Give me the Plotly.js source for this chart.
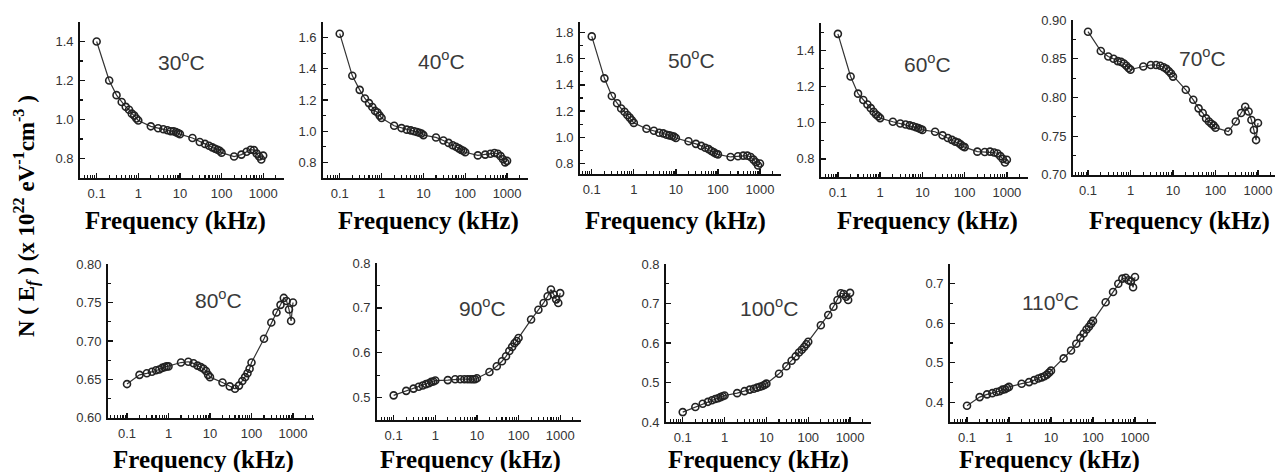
<!DOCTYPE html>
<html>
<head>
<meta charset="utf-8">
<script src="https://cdn.plot.ly/plotly-3.0.1.min.js"></script>
<style>
html,body{margin:0;padding:0;background:#fff;}
#chart{width:1275px;height:472px;}
</style>
</head>
<body>
<div id="chart"></div>
<script>
// ---- data ----
const freqKHz = [0.1,0.2,0.3,0.4,0.5,0.6,0.7,0.8,0.9,1,2,3,4,5,6,7,8,9,10,20,30,40,50,60,70,80,90,100,200,300,400,500,600,700,800,900,1000];
const tempLabels = ['30','40','50','60','70','80','90','100','110'];
const xTickVals = [0.1,1,10,100,1000];
const xTickText = ['0.1','1','10','100','1000'];
const xTitle = 'Frequency (kHz)';
const yTitle = 'N ( E<sub><i>f</i></sub> ) (x 10<sup>22</sup> eV<sup>-1</sup>cm<sup>-3</sup> )';

const n30 = [1.40,1.20,1.125,1.09,1.065,1.05,1.03,1.02,1.005,0.995,0.965,0.955,0.95,0.945,0.94,0.94,0.935,0.93,0.925,0.905,0.885,0.875,0.865,0.857,0.85,0.845,0.84,0.83,0.81,0.82,0.835,0.845,0.843,0.825,0.81,0.795,0.815];
const n40 = [1.625,1.355,1.265,1.21,1.18,1.155,1.13,1.12,1.10,1.085,1.035,1.02,1.01,1.005,1.0,0.995,0.99,0.985,0.975,0.96,0.94,0.925,0.91,0.90,0.89,0.88,0.875,0.865,0.845,0.85,0.855,0.86,0.855,0.84,0.82,0.80,0.81];
const n50 = [1.77,1.45,1.315,1.26,1.22,1.195,1.17,1.15,1.13,1.11,1.065,1.05,1.035,1.03,1.02,1.015,1.01,1.005,0.995,0.97,0.95,0.935,0.92,0.91,0.895,0.885,0.875,0.87,0.85,0.855,0.86,0.86,0.85,0.83,0.81,0.785,0.80];
const n60 = [1.49,1.255,1.16,1.125,1.10,1.08,1.06,1.045,1.035,1.025,1.005,0.995,0.99,0.985,0.98,0.975,0.97,0.965,0.96,0.95,0.93,0.915,0.905,0.895,0.89,0.88,0.87,0.865,0.84,0.838,0.84,0.835,0.83,0.815,0.80,0.78,0.795];
const n70 = [0.885,0.86,0.853,0.85,0.847,0.846,0.844,0.841,0.838,0.836,0.84,0.842,0.842,0.841,0.839,0.837,0.834,0.831,0.827,0.81,0.797,0.786,0.78,0.773,0.769,0.766,0.764,0.761,0.756,0.769,0.78,0.788,0.782,0.771,0.758,0.745,0.767];
const n80 = [0.644,0.656,0.658,0.66,0.662,0.663,0.665,0.666,0.667,0.667,0.672,0.673,0.671,0.668,0.666,0.664,0.661,0.656,0.653,0.646,0.641,0.638,0.642,0.648,0.653,0.658,0.664,0.672,0.703,0.724,0.737,0.747,0.756,0.752,0.741,0.726,0.75];
const n90 = [0.505,0.515,0.52,0.524,0.527,0.53,0.532,0.535,0.536,0.538,0.539,0.541,0.541,0.541,0.541,0.541,0.541,0.541,0.543,0.557,0.570,0.581,0.592,0.604,0.613,0.621,0.626,0.633,0.674,0.696,0.711,0.726,0.741,0.73,0.719,0.711,0.733];
const n100 = [0.425,0.438,0.446,0.451,0.455,0.458,0.46,0.463,0.465,0.467,0.473,0.478,0.482,0.484,0.487,0.489,0.491,0.494,0.497,0.522,0.541,0.555,0.566,0.576,0.583,0.59,0.597,0.603,0.645,0.671,0.692,0.709,0.726,0.724,0.717,0.709,0.727];
const n110 = [0.391,0.413,0.42,0.423,0.426,0.428,0.432,0.433,0.436,0.439,0.447,0.451,0.456,0.46,0.463,0.466,0.47,0.475,0.48,0.511,0.531,0.548,0.563,0.574,0.584,0.591,0.599,0.606,0.653,0.679,0.70,0.713,0.715,0.709,0.706,0.691,0.717];
const seriesList = [n30,n40,n50,n60,n70,n80,n90,n100,n110];

// ---- layout of each panel (pixel boxes and axis settings) ----
const W = 1275, H = 472;
const panels = [
  {l:80,  r:284, t:22,  b:178, xr:[-1.4,3.5],   yr:[0.7,1.5],    d:0.2,  t0:0.8, f:'.1f', lab:[182,61],  ttl:[175,221]},
  {l:323, r:528, t:22,  b:178, xr:[-1.4,3.5],   yr:[0.7,1.7],    d:0.2,  t0:0.8, f:'.1f', lab:[441,60],  ttl:[428,221]},
  {l:580, r:781, t:22,  b:174, xr:[-1.28,3.5],  yr:[0.72,1.88],  d:0.2,  t0:0.8, f:'.1f', lab:[691,59],  ttl:[675,221]},
  {l:821, r:1028,t:23,  b:177, xr:[-1.4,3.5],   yr:[0.7,1.55],   d:0.2,  t0:0.8, f:'.1f', lab:[928,63],  ttl:[928,221]},
  {l:1073,r:1275,t:20,  b:175, xr:[-1.353,3.4], yr:[0.6999,0.9001],d:0.05,t0:0.7,f:'.2f', lab:[1202,57], ttl:[1179,221]},
  {l:108, r:314, t:264, b:418, xr:[-1.458,3.506],yr:[0.5999,0.8001],d:0.05,t0:0.6,f:'.2f', lab:[218,299], ttl:[203,460]},
  {l:377, r:581, t:263, b:420, xr:[-1.4,3.5],   yr:[0.45,0.8001],d:0.1,  t0:0.5, f:'.1f', lab:[482,307], ttl:[470,460]},
  {l:666, r:871, t:264, b:422, xr:[-1.4,3.5],   yr:[0.3999,0.8001],d:0.1, t0:0.4, f:'.1f', lab:[769,307], ttl:[758,460]},
  {l:950, r:1156,t:264, b:422, xr:[-1.405,3.5], yr:[0.35,0.75],  d:0.1,  t0:0.4, f:'.1f', lab:[1050,301],ttl:[1049,460]}
];

const tickFont = {family:'Liberation Sans, Arial, sans-serif', size:13, color:'#333'};
const traces = [];
const layout = {
  width: W, height: H,
  margin:{l:0,r:0,t:0,b:0},
  paper_bgcolor:'#fff', plot_bgcolor:'rgba(0,0,0,0)',
  showlegend:false,
  annotations:[]
};

panels.forEach((p, i) => {
  const k = i === 0 ? '' : String(i + 1);
  traces.push({
    x: freqKHz, y: seriesList[i],
    xaxis: 'x' + k, yaxis: 'y' + k,
    type:'scatter', mode:'lines+markers',
    line:{color:'#333', width:1.2},
    marker:{symbol:'circle-open', size:7, color:'#222', line:{width:1.6, color:'#222'}},
    hoverinfo:'skip'
  });
  layout['xaxis' + k] = {
    type:'log', range:p.xr, domain:[p.l / W, p.r / W], anchor:'y' + k,
    tickmode:'array', tickvals:xTickVals, ticktext:xTickText,
    ticks:'inside', ticklen:5, tickwidth:1.3, tickcolor:'#111',
    minor:{ticks:'inside', ticklen:3, tickwidth:1.1, tickcolor:'#111', dtick:'D1', showgrid:false},
    showline:true, linecolor:'#111', linewidth:1.8,
    showgrid:false, zeroline:false, tickfont:tickFont, ticklabelstandoff:3,
    fixedrange:true
  };
  layout['yaxis' + k] = {
    range:p.yr, domain:[1 - p.b / H, 1 - p.t / H], anchor:'x' + k,
    tickmode:'linear', tick0:p.t0, dtick:p.d, tickformat:p.f,
    ticks:'inside', ticklen:5, tickwidth:1.3, tickcolor:'#111',
    minor:{ticks:'inside', ticklen:3, tickwidth:1.1, tickcolor:'#111', tick0:p.t0, dtick:p.d / 2, showgrid:false},
    showline:true, linecolor:'#111', linewidth:1.8,
    showgrid:false, zeroline:false, tickfont:tickFont, ticklabelstandoff:2,
    fixedrange:true
  };
  layout.annotations.push({
    xref:'paper', yref:'paper', x:p.lab[0] / W, y:1 - p.lab[1] / H,
    xanchor:'center', yanchor:'middle', showarrow:false,
    text: tempLabels[i] + '<sup>o</sup>C',
    font:{family:'Liberation Sans, Arial, sans-serif', size:21, color:'#3a3a3a'}
  });
  layout.annotations.push({
    xref:'paper', yref:'paper', x:p.ttl[0] / W, y:1 - p.ttl[1] / H,
    xanchor:'center', yanchor:'middle', showarrow:false,
    text: '<b>' + xTitle + '</b>',
    font:{family:'Liberation Serif, Times New Roman, serif', size:25, color:'#000'}
  });
});

layout.annotations.push({
  xref:'paper', yref:'paper', x:26 / W, y:1 - 216 / H,
  xanchor:'center', yanchor:'middle', showarrow:false, textangle:-90,
  text:'<b>' + yTitle + '</b>',
  font:{family:'Liberation Serif, Times New Roman, serif', size:23, color:'#000'}
});

Plotly.newPlot('chart', traces, layout, {staticPlot:true, displayModeBar:false});
</script>
</body>
</html>
